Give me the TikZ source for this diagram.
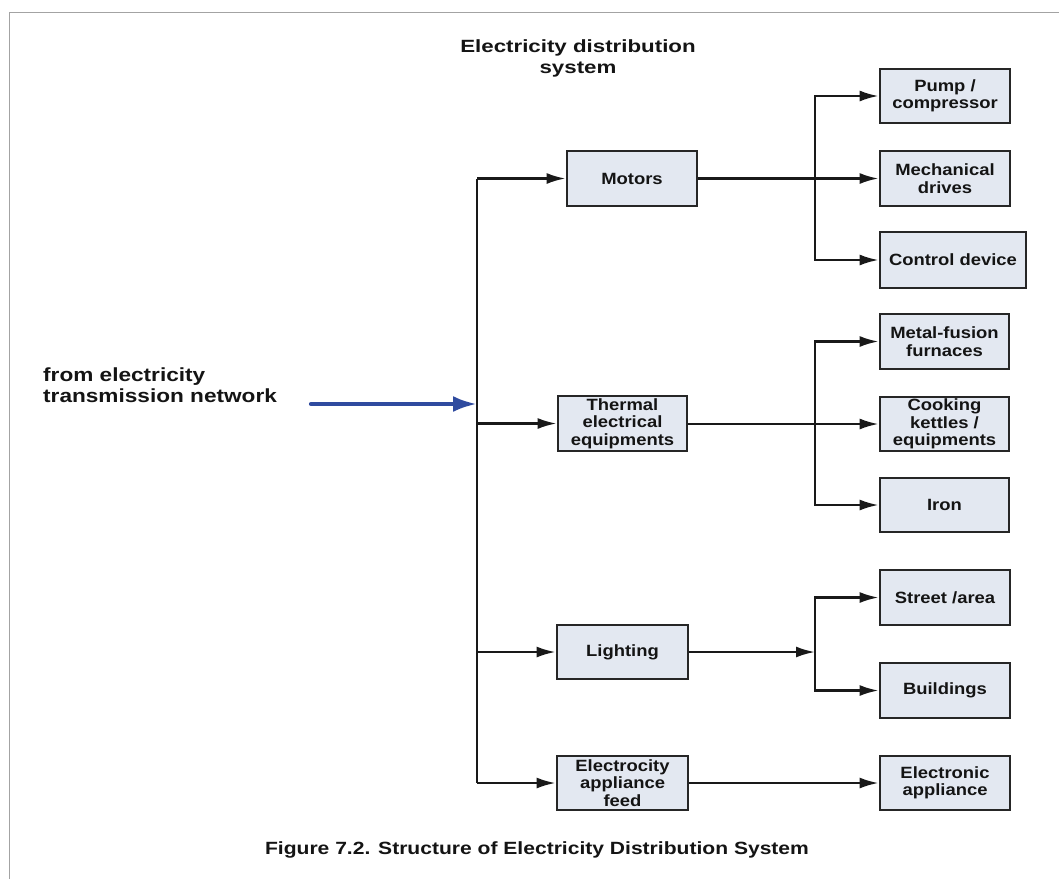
\documentclass[tikz,border=0pt]{standalone}
\usepackage{fontspec}
\setmainfont{Liberation Sans}
\newfontfamily\boxfont[FakeStretch=1.13]{Liberation Sans}
\newfontfamily\titlefont[FakeStretch=1.26]{Liberation Sans}
\newfontfamily\leftfont[FakeStretch=1.19]{Liberation Sans}
\newfontfamily\capfont[FakeStretch=1.19]{Liberation Sans}
\usetikzlibrary{arrows.meta}
\definecolor{boxfill}{HTML}{E3E8F1}
\definecolor{txt}{HTML}{141414}
\definecolor{netblue}{HTML}{2F4B9F}
\definecolor{framegray}{HTML}{A3A3A3}
\tikzset{
  blk/.style={draw=black!85, fill=boxfill, line width=2.8pt, inner sep=0pt,
    minimum height=55pt, align=center, text=txt,
    font=\boxfont\bfseries\fontsize{16.3}{17.5}\selectfont},
  conn/.style={line width=2.4pt, draw=black!90},
  arr/.style={conn, -{Latex[length=19pt,width=11pt]}},
  bluearr/.style={line width=4.2pt, draw=netblue, line cap=round,
    -{Latex[length=24pt,width=16pt]}},
}
\begin{document}
\begin{tikzpicture}[x=1pt,y=-1pt]
\useasboundingbox (0,0) rectangle (1059,879);
% frame
\draw[framegray, line width=1.5pt] (9.5,879) -- (9.5,12.5) -- (1059,12.5);

% texts
\node[font=\titlefont\bfseries\fontsize{17.7}{21}\selectfont, text=txt, align=center, inner sep=0pt] (title) at (578,58.5) {Electricity distribution\\system};
\node[font=\leftfont\bfseries\fontsize{19}{20.7}\selectfont, text=txt, align=left, inner sep=0pt, anchor=west] (src) at (43,385.5) {from electricity\\transmission network};
\node[font=\capfont\bfseries\fontsize{17.7}{21}\selectfont, text=txt, inner sep=0pt, anchor=base] (cap) at (537,854) {Figure 7.2. Structure of Electricity Distribution System};

% level-1 boxes
\node[blk, minimum width=130pt] (motors) at (632,178.5) {Motors};
\node[blk, minimum width=129pt] (thermal) at (622.5,423.5) {Thermal\\electrical\\equipments};
\node[blk, minimum width=131pt, minimum height=54pt] (lighting) at (622.5,652) {Lighting};
\node[blk, minimum width=131pt, minimum height=54pt] (feed) at (622.5,783) {Electrocity\\appliance\\feed};

% level-2 boxes
\node[blk, minimum width=130pt, minimum height=54pt] (pump) at (945,96) {Pump /\\compressor};
\node[blk, minimum width=130pt] (mech) at (945,178.5) {Mechanical\\drives};
\node[blk, minimum width=146pt, minimum height=56pt] (control) at (953,260) {Control device};
\node[blk, minimum width=129pt] (metal) at (944.5,341.5) {Metal-fusion\\furnaces};
\node[blk, minimum width=129pt, minimum height=54pt] (cooking) at (944.5,424) {Cooking\\kettles /\\equipments};
\node[blk, minimum width=129pt, minimum height=54pt] (iron) at (944.5,505) {Iron};
\node[blk, minimum width=130pt] (street) at (945,597.5) {Street /area};
\node[blk, minimum width=130pt] (buildings) at (945,690.5) {Buildings};
\node[blk, minimum width=130pt, minimum height=54pt] (electronic) at (945,783) {Electronic\\appliance};

% trunk
\coordinate (ttop) at (477,178.5);
\coordinate (tbot) at (477,783);
\coordinate (srcpt) at (311,404);
\draw[conn] (ttop) -- (tbot);
\draw[bluearr] (srcpt) -- (srcpt -| ttop);
\draw[arr] (ttop) -- (motors.west);
\draw[arr] (thermal.west -| ttop) -- (thermal.west);
\draw[arr] (lighting.west -| ttop) -- (lighting.west);
\draw[arr] (tbot) -- (feed.west);

% motors branch
\coordinate (mj) at (815,178.5);
\draw[arr] (motors.east) -- (mech.west);
\draw[arr] (mj) |- (pump.west);
\draw[arr] (mj) |- (control.west);

% thermal branch
\coordinate (tj) at (815,424);
\draw[arr] (thermal.east |- tj) -- (cooking.west);
\draw[arr] (tj) |- (metal.west);
\draw[arr] (tj) |- (iron.west);

% lighting branch
\coordinate (lj) at (815,652);
\draw[arr] (lighting.east) -- (lj);
\draw[arr] (lj) |- (street.west);
\draw[arr] (lj) |- (buildings.west);

% appliance feed
\draw[arr] (feed.east) -- (electronic.west);
\end{tikzpicture}
\end{document}
